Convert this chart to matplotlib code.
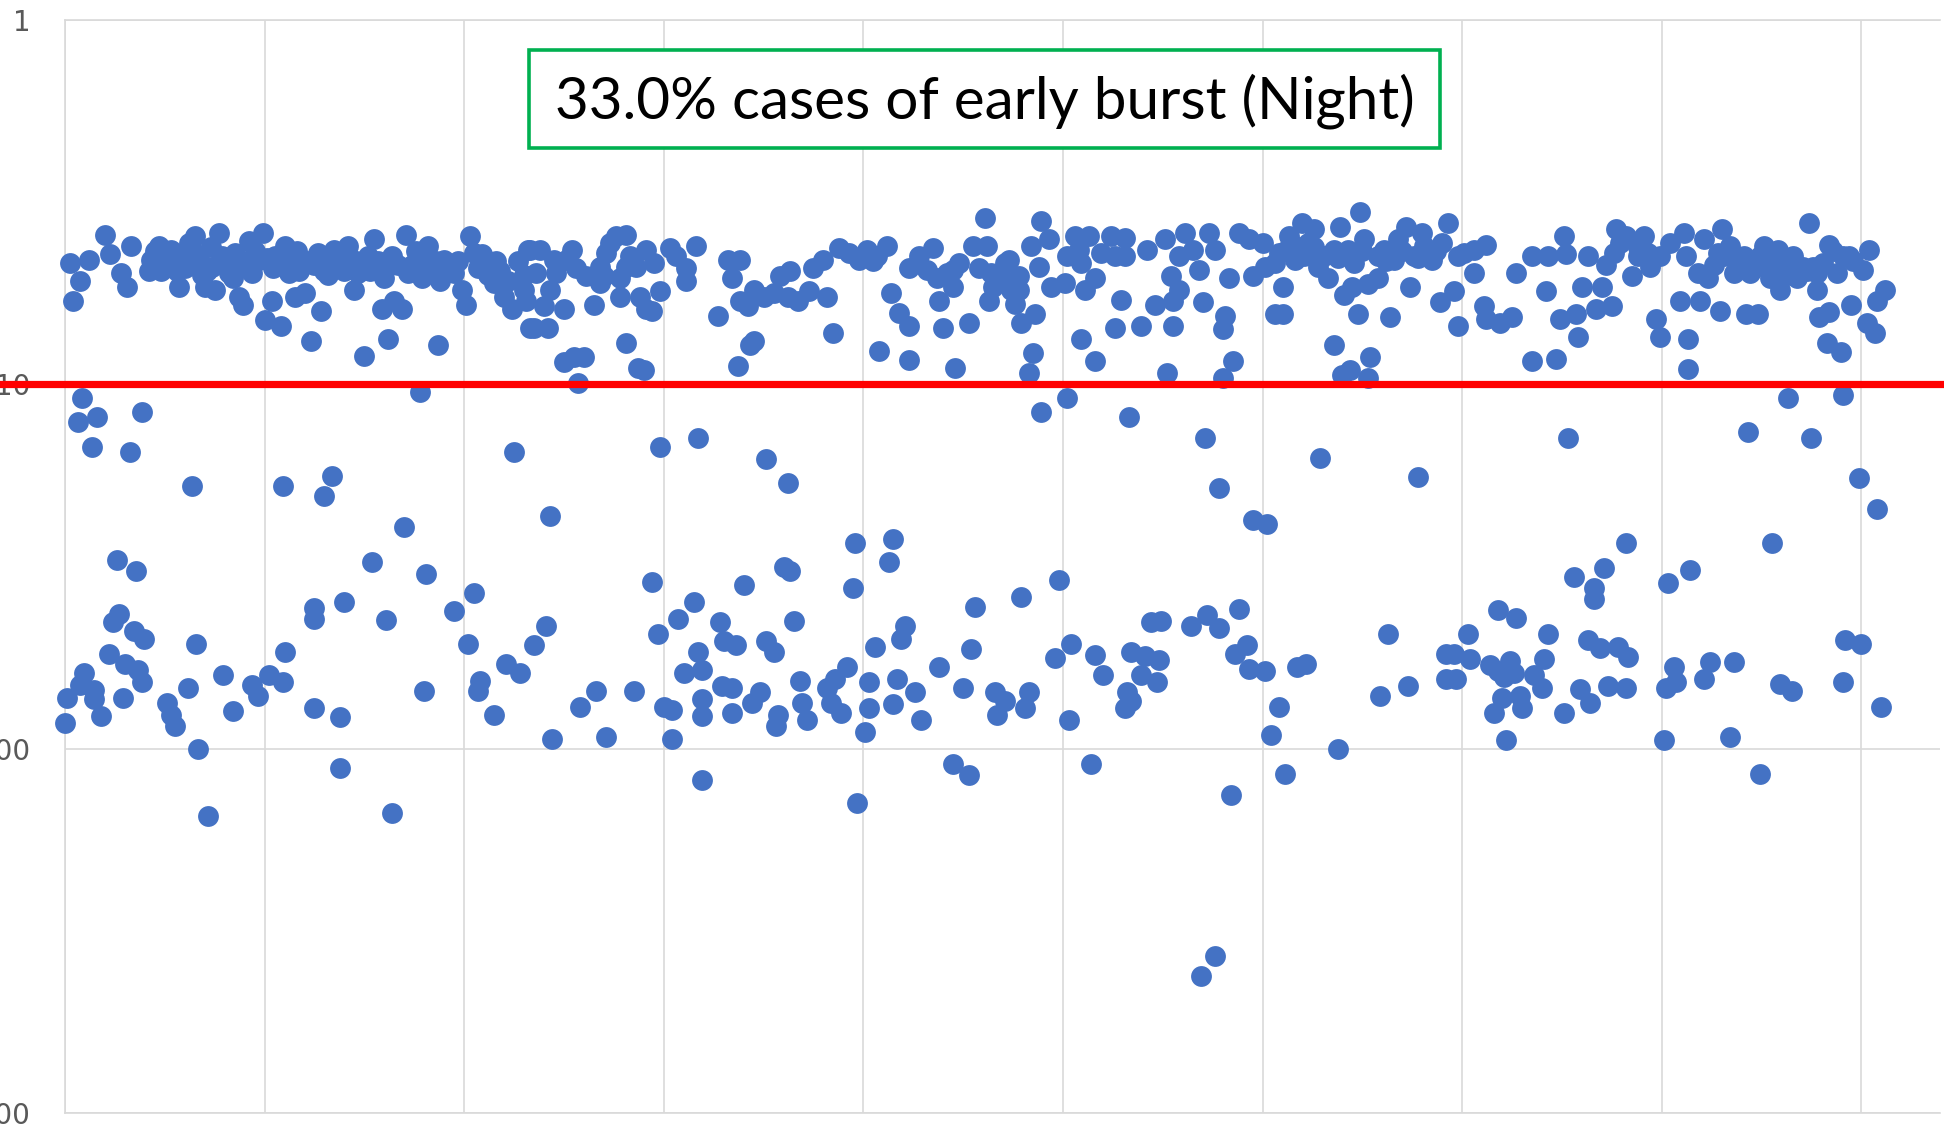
import numpy as np
import matplotlib
matplotlib.use("Agg")
import matplotlib.pyplot as plt
from matplotlib.patches import Rectangle
from matplotlib.transforms import blended_transform_factory

# sample index / value pairs, dense band (below 10)
band_idx = [
    2.5, 4, 7.5, 12, 20, 22.5, 28, 31, 33, 42, 43, 47, 50, 53, 57, 58.5, 62, 65, 68.5, 70,
    73.5, 75, 77, 78.5, 82, 85, 87, 89, 92, 93.5, 97, 99, 100, 103.5, 105, 108, 110, 112, 115, 118.5,
    120, 122, 123, 127, 128.5, 132, 135, 138.5, 142, 145, 147, 150, 152, 155, 158, 159, 162, 164, 165, 169,
    171, 172, 177, 182, 184, 187, 190, 195, 199, 201, 203, 205, 210, 215, 220, 224, 227, 232, 233,
    48, 52, 55, 60, 64, 67, 71, 80, 84, 88, 95, 101, 107, 113, 117, 125, 130, 134, 140, 143,
    149, 153, 157, 160, 167, 174, 179, 186, 188, 192, 197, 207, 212, 218, 222, 230,
    45, 56, 63, 73, 91, 104, 116, 137, 146, 163, 176, 181, 194, 209, 216,
    233, 238, 230, 231, 235, 242, 240, 243, 246, 250, 250, 254, 255, 257, 260, 256, 261, 265, 268, 271,
    273, 276, 281, 278, 281, 281, 286, 287, 290, 288, 291, 291, 294, 295, 298, 303, 306, 311, 311, 316,
    327, 332, 338, 334, 337, 338, 342, 345, 343, 345, 350, 355, 358, 363, 362, 367, 373, 375, 380, 382,
    385, 388, 393, 398, 402, 407, 412, 408, 414, 418, 423, 423, 423, 428, 435, 438, 440, 442, 445, 446,
    448, 453, 455, 458, 461, 462, 463, 465,
    268, 270, 278, 283, 251, 245, 236, 405, 432, 445, 437,
    464, 469, 473, 474, 476, 478, 479, 484, 486, 485, 483, 489, 488, 493, 494, 501, 502, 506, 509, 509,
    511, 513, 516, 516, 519, 524, 526, 526, 529, 531, 531, 539, 542, 546, 551, 552, 554, 555, 555, 558,
    558, 561, 565, 568, 570, 573, 576, 580, 581, 580, 583, 585, 588, 593, 595, 600, 601, 606, 610, 610,
    608, 613, 616, 620, 623, 626, 628, 633, 636, 636, 639, 641, 640, 644, 645, 646, 648, 649, 651, 653,
    653, 654, 658, 661, 664, 668, 672, 674, 676, 680, 685, 689, 690, 693, 696, 698, 698,
    616, 631, 643, 658, 666, 681, 508, 471, 478, 606, 621,
    611, 626, 638, 650, 662, 670, 678, 687,
    701, 706, 706, 711, 712, 712, 719, 725, 727, 735, 735, 742, 743, 747, 749, 751, 752, 757, 758, 760,
    763, 767, 770, 772, 775, 776, 777, 782, 785, 788, 791, 794, 797, 799, 799, 804, 809, 811, 812, 813,
    813, 818, 821, 819, 823, 828, 829, 830, 834, 839, 842, 844, 848, 849, 854, 858, 859, 864, 868, 874,
    876, 878, 879, 883, 884, 884, 888, 890, 894, 895, 901, 903, 904, 907, 908, 912,
    841, 853, 861, 871, 881, 891, 831, 836, 851, 866, 878, 788, 793,
    846, 856, 863, 873, 886, 896, 826, 779,
]
band_val = [
    4.65, 5.9, 5.2, 4.55, 3.88, 4.4, 4.95, 5.4, 4.18, 4.9, 4.55, 4.18, 4.75, 4.28, 5.4, 4.55, 4.1, 3.92, 5.0, 5.4,
    4.75, 5.5, 3.84, 4.45, 4.95, 4.37, 5.75, 6.05, 4.05, 4.95, 4.55, 3.84, 6.65, 5.9, 4.45, 6.9, 4.18, 4.95, 5.75, 4.55,
    5.62, 4.6, 7.6, 4.37, 6.3, 5.0, 4.28, 4.65, 4.18, 5.5, 4.95, 8.35, 4.45, 4.0, 4.85, 6.2, 7.5, 4.45, 5.9, 6.2,
    3.88, 4.95, 4.45, 4.18, 4.95, 7.8, 4.55, 4.95, 5.5, 6.05, 3.92, 4.37, 4.75, 5.27, 5.75, 6.2, 4.6, 4.28, 7.0,
    4.9, 4.6, 4.4, 4.8, 4.3, 4.5, 4.9, 4.7, 5.1, 4.6, 4.3, 4.5, 4.6, 4.4, 4.9, 4.7, 4.9, 4.5, 4.9, 4.5,
    4.7, 4.9, 4.6, 5.1, 4.7, 4.7, 5.1, 4.6, 5.2, 4.8, 4.6, 4.8, 5.0, 4.9, 5.2, 5.0,
    4.3, 4.9, 4.6, 4.2, 4.7, 4.8, 4.3, 4.4, 4.6, 4.7, 4.3, 4.6, 4.7, 4.4, 4.6,
    4.28, 4.28, 5.5, 5.9, 7.0, 7.0, 6.1, 5.5, 4.95, 6.2, 8.7, 4.28, 8.4, 9.9, 8.4, 4.8, 5.05, 6.05, 5.27, 4.37,
    4.09, 3.92, 3.88, 5.75, 7.7, 4.75, 4.75, 9.0, 9.15, 5.75, 4.28, 6.2, 6.3, 4.65, 5.55, 4.22, 4.45, 4.8, 5.2, 4.18,
    6.5, 4.55, 4.55, 5.1, 8.9, 5.9, 6.1, 7.6, 7.8, 5.5, 5.75, 5.62, 5.05, 4.9, 5.75, 5.9, 5.55, 4.8, 4.55, 5.75,
    7.24, 4.22, 4.37, 4.55, 4.28, 4.45, 4.18, 8.1, 5.62, 6.38, 6.9, 8.6, 4.8, 4.45, 4.22, 5.9, 7.0, 4.95, 5.4, 9.0,
    4.65, 6.8, 4.18, 4.8, 3.5, 4.18, 5.9, 5.4,
    4.75, 5.05, 5.1, 4.45, 4.55, 4.55, 4.95, 4.6, 4.85, 4.85, 5.1,
    4.95, 5.1, 4.55, 5.5, 6.0, 5.05, 6.8, 4.18, 6.4, 8.2, 9.3, 3.57, 4.75, 4.0, 5.4, 5.27, 4.45, 3.92, 7.5, 4.65,
    5.5, 3.92, 5.1, 8.65, 4.37, 3.92, 4.45, 7.0, 5.85, 3.96, 4.45, 6.9, 4.28, 6.05, 4.0, 9.3, 5.05, 5.9, 6.9, 4.45,
    5.5, 3.84, 4.28, 4.85, 5.95, 3.84, 4.28, 7.05, 6.5, 9.6, 5.1, 8.65, 3.84, 4.0, 5.05, 4.09, 4.75, 6.4, 6.4, 5.4,
    4.37, 3.92, 4.55, 3.61, 4.09, 3.75, 4.75, 5.1, 7.8, 4.28, 3.7, 5.7, 9.4, 9.15, 5.4, 4.65, 6.4, 3.36, 4.0, 5.3,
    9.6, 8.4, 5.1, 4.28, 6.55, 4.0, 3.7, 5.4, 4.45, 3.84, 4.55, 5.95, 4.09, 3.61, 5.55, 4.45, 6.9,
    4.18, 4.45, 4.28, 4.45, 4.55, 4.18, 4.28, 4.65, 5.5, 4.65, 4.45,
    4.3, 4.2, 4.5, 4.3, 4.6, 4.3, 4.5, 4.3,
    4.37, 4.28, 4.95, 6.1, 4.15, 6.6, 6.8, 6.55, 4.95, 4.45, 8.65, 5.55, 4.45, 8.5, 6.6, 3.92, 4.4, 6.4, 7.4, 5.4,
    4.45, 6.2, 5.4, 4.7, 6.1, 4.37, 3.75, 3.92, 5.05, 4.45, 3.92, 4.75, 6.6, 7.4, 4.45, 4.09, 5.9, 3.84, 4.45, 7.5,
    9.1, 4.95, 4.0, 5.9, 5.1, 4.37, 6.3, 3.75, 4.18, 4.65, 6.4, 4.95, 6.4, 4.45, 5.1, 4.28, 5.5, 4.65, 5.1, 3.61,
    4.75, 5.5, 6.55, 7.7, 4.15, 6.35, 4.95, 8.15, 4.45, 6.05, 4.85, 6.8, 4.28, 7.24, 5.9, 5.5,
    4.45, 4.65, 4.85, 4.75, 4.65, 4.45, 4.45, 4.95, 4.18, 4.45, 4.95, 4.2, 4.35,
    4.8, 4.4, 5.0, 4.9, 4.3, 4.6, 4.7, 4.1,
]

# scattered cases below the threshold line (above 10)
late_idx = [
    8.5, 6.4, 15.8, 38.6, 13.7, 32.4, 63.5, 26, 35.5, 24, 27, 34.5, 39.7, 22, 30.3, 36.5, 38.6, 9.5, 7.5, 14.7,
    1.2, 14.7, 29.3, 17.8, 0.2, 51, 55, 53, 61.5, 65.6, 66.7, 71.8, 79, 84, 93.6, 96.8, 102, 109, 110, 109,
    125, 125, 134, 130, 140, 125, 138, 138, 154, 161, 170, 178, 181, 180, 164, 195, 205, 202, 208, 207,
    215, 221, 228, 225, 235, 241, 243, 244, 258, 266, 271, 285, 294, 297, 298, 300, 304, 304, 307, 315,
    317, 317, 310, 319, 319, 319,
    351, 362, 489, 502, 533, 571, 578, 629, 595, 602, 396, 415, 413, 360, 363, 340, 395, 498, 479, 456,
    588, 328, 365, 421, 544, 549, 564, 572, 578, 330, 336, 351, 355, 419, 406, 454, 504, 496, 516, 534,
    541, 548, 592, 586, 319, 438, 520, 539, 547, 593, 601, 617, 622, 368, 392, 386, 382, 329, 334, 348,
    344, 403, 417, 426, 415, 403, 389, 384, 369, 372, 357, 356, 334, 450, 466, 471, 467, 483, 481, 429,
    401, 503, 532, 534, 531, 608, 604, 638, 397, 445, 453, 514, 584, 611,
    678, 753, 863, 891, 843, 875, 899, 908, 782, 855, 771, 756, 814, 803, 766, 766, 718, 727, 663, 703,
    743, 763, 769, 778, 783, 692, 696, 704, 714, 724, 741, 718, 726, 736, 692, 697, 721, 740, 806, 824,
    836, 821, 807, 802, 773, 782, 892, 900, 859, 865, 891, 759, 764, 729, 730, 720, 716, 751, 659, 673,
    910, 722, 801, 834, 849, 569, 576,
]
late_val = [
    10.9, 12.65, 12.3, 11.9, 14.9, 15.3, 19, 30.3, 32.6, 45, 42.6, 47.6, 50, 55, 58.5, 61, 65.5, 62, 67, 69,
    72.5, 73, 72.5, 81.6, 85, 75, 86.5, 80.8, 68, 51.5, 100, 153, 62.6, 79, 67, 71.7, 62.6, 65.5, 54.3, 19,
    41, 44, 17.8, 20.2, 39.5, 77.5, 82, 113, 30.8, 44.3, 24.6, 10.5, 33.2, 69.5, 150, 42, 37.4, 51.5, 65, 69.5,
    81, 58.5, 62, 15.3, 52, 46, 23, 94, 76.7, 69.5, 93, 69.5, 34.8, 48.5, 14.9, 76.7, 78.5, 94, 44, 39.5,
    14.0, 54.3, 62, 73, 122, 81.6,
    16.0, 18.7, 11.9, 10.9, 12.3, 14.0, 19.3, 15.9, 23.5, 24.2, 27.2, 26.6, 30.8, 31.8, 32.5, 35.5, 36.3, 34.4, 38.4, 40.8,
    41.3, 45, 44.5, 46.1, 45, 44.5, 46.1, 42.9, 46.5, 50.6, 52, 50.6, 54.3, 50.1, 52.6, 53.1, 51.5, 56.3, 55.3, 54.3,
    55.8, 57, 52, 55, 61, 59.6, 62.6, 62.6, 65.5, 60.5, 61.2, 59.6, 58.5, 65, 59.6, 64.3, 68, 67.3, 68, 70,
    75, 65.8, 64.3, 70, 75.5, 77.5, 80, 75, 75, 83.5, 81, 86.5, 80, 68, 70, 74, 81, 70, 77.5, 83.5,
    90, 83.5, 70, 74, 77.5, 76.7, 92, 100, 141, 110, 118, 110, 134, 117,
    18, 14.0, 10.9, 10.7, 13.5, 14.0, 18.1, 22.0, 27.2, 27.2, 31.9, 33.8, 32.4, 35.2, 36.3, 38.8, 41.7, 43.7, 48.5, 48.5,
    48.5, 50.3, 53, 52.6, 56, 55, 55, 56.7, 59, 57.3, 56.7, 61.2, 62, 62.6, 64.3, 64.3, 63.5, 68.2, 59.6, 58,
    58, 64.3, 65.8, 68.2, 67.3, 68.2, 50.3, 51.5, 66.5, 69.5, 65.5, 68.5, 75, 71.7, 77.5, 72.5, 80, 80, 71.7, 67.5,
    76.7, 94.5, 94.5, 93, 117, 420, 370,
]

threshold = 10
y_ticks = [1, 10, 100, 1000]
x_grid = list(range(0, 1000, 100))
note = "33.0% cases of early burst (Night)"

W, H = 1944, 1132
fig = plt.figure(figsize=(W / 100, H / 100), dpi=100)
fig.patch.set_facecolor("white")
ax = fig.add_axes([65 / W, 1 - 1113 / H, 1875 / W, 1093 / H])

ax.set_yscale("log")
ax.set_ylim(1000, 1)
ax.set_xlim(0, 939.4)

ax.scatter(band_idx + late_idx, band_val + late_val, s=225, color="#4472C4",
           linewidths=0, zorder=3, clip_on=False)

# red threshold line runs across the whole picture
trans = blended_transform_factory(ax.transAxes, ax.transData)
ax.plot([-0.04, 1.01], [threshold, threshold], color="#FF0000", lw=5.2,
        transform=trans, clip_on=False, zorder=4)

ax.set_xticks(x_grid)
ax.set_xticklabels([])
ax.set_yticks(y_ticks)
ax.set_yticklabels([str(t) for t in y_ticks])
ax.minorticks_off()
ax.tick_params(axis="both", length=0)
ax.tick_params(axis="y", pad=25, labelsize=20, labelcolor="#595959")
ax.grid(True, axis="x", color="#D9D9D9", lw=1.2, zorder=0)
ax.grid(True, axis="y", color="#D9D9D9", lw=1.2, zorder=0)
for side in ["top", "left", "bottom"]:
    ax.spines[side].set_color("#D9D9D9")
    ax.spines[side].set_linewidth(1.2)
ax.spines["right"].set_visible(False)

# annotation box
fig.patches.append(Rectangle((529 / W, 1 - 148 / H), 911 / W, 98 / H,
                             transform=fig.transFigure, facecolor="white",
                             edgecolor="#00B050", lw=2.6, zorder=5))
txt = fig.text(985 / W, 1 - 101 / H, note, ha="center", va="center",
               family="Lato", fontsize=36, color="black", zorder=6)
fig.canvas.draw()
w = txt.get_window_extent().width
txt.set_fontsize(36 * 860 / w)

fig.savefig("out.png", dpi=100)
